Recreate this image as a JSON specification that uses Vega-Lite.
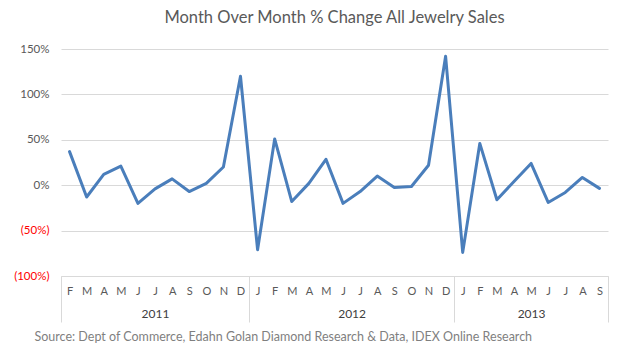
{
  "$schema": "https://vega.github.io/schema/vega-lite/v6.json",
  "autosize": {"type": "none"},
  "width": 547,
  "height": 227,
  "padding": {"left": 61, "top": 49, "right": 17, "bottom": 79},
  "background": "white",
  "title": {
    "text": "Month Over Month % Change All Jewelry Sales",
    "fontSize": 16.5,
    "font": "Lato",
    "fontWeight": "normal",
    "color": "#595959",
    "anchor": "middle",
    "offset": 17
  },
  "config": {
    "view": {"stroke": null},
    "font": "Lato"
  },
  "data": {
    "values": [
      {"i": 0, "year": "2011", "month": "F", "value": 37},
      {"i": 1, "year": "2011", "month": "M", "value": -13},
      {"i": 2, "year": "2011", "month": "A", "value": 12},
      {"i": 3, "year": "2011", "month": "M", "value": 21},
      {"i": 4, "year": "2011", "month": "J", "value": -20},
      {"i": 5, "year": "2011", "month": "J", "value": -4},
      {"i": 6, "year": "2011", "month": "A", "value": 7},
      {"i": 7, "year": "2011", "month": "S", "value": -7},
      {"i": 8, "year": "2011", "month": "O", "value": 2},
      {"i": 9, "year": "2011", "month": "N", "value": 20},
      {"i": 10, "year": "2011", "month": "D", "value": 120},
      {"i": 11, "year": "2012", "month": "J", "value": -71},
      {"i": 12, "year": "2012", "month": "F", "value": 51},
      {"i": 13, "year": "2012", "month": "M", "value": -18},
      {"i": 14, "year": "2012", "month": "A", "value": 2},
      {"i": 15, "year": "2012", "month": "M", "value": 28.5},
      {"i": 16, "year": "2012", "month": "J", "value": -20},
      {"i": 17, "year": "2012", "month": "J", "value": -7},
      {"i": 18, "year": "2012", "month": "A", "value": 10},
      {"i": 19, "year": "2012", "month": "S", "value": -2.5},
      {"i": 20, "year": "2012", "month": "O", "value": -1.5},
      {"i": 21, "year": "2012", "month": "N", "value": 22},
      {"i": 22, "year": "2012", "month": "D", "value": 142},
      {"i": 23, "year": "2013", "month": "J", "value": -74},
      {"i": 24, "year": "2013", "month": "F", "value": 46},
      {"i": 25, "year": "2013", "month": "M", "value": -16},
      {"i": 26, "year": "2013", "month": "A", "value": 4},
      {"i": 27, "year": "2013", "month": "M", "value": 24},
      {"i": 28, "year": "2013", "month": "J", "value": -19},
      {"i": 29, "year": "2013", "month": "J", "value": -8},
      {"i": 30, "year": "2013", "month": "A", "value": 8.5},
      {"i": 31, "year": "2013", "month": "S", "value": -3.5}
    ]
  },
  "layer": [
    {
      "mark": {"type": "line", "color": "#4A7EBB", "strokeWidth": 3, "strokeJoin": "round", "strokeCap": "round"},
      "encoding": {
        "x": {
          "field": "i", "type": "quantitative",
          "scale": {"domain": [-0.5, 31.5], "nice": false, "zero": false},
          "axis": {
            "orient": "bottom",
            "title": null,
            "values": [0,1,2,3,4,5,6,7,8,9,10,11,12,13,14,15,16,17,18,19,20,21,22,23,24,25,26,27,28,29,30,31],
            "labelExpr": "substring('FMAMJJASONDJFMAMJJASONDJFMAMJJAS', datum.value, datum.value + 1)",
            "ticks": false,
            "grid": false,
            "domainColor": "#D9D9D9",
            "domainWidth": 1,
            "labelPadding": 9,
            "labelColor": "#595959",
            "labelFontSize": 11,
            "labelFont": "Lato",
            "labelOverlap": false,
            "labelBound": false,
            "labelFlush": false
          }
        },
        "y": {
          "field": "value", "type": "quantitative",
          "scale": {"domain": [-100, 150], "nice": false},
          "axis": {
            "title": null,
            "values": [-100, -50, 0, 50, 100, 150],
            "labelExpr": "datum.value < 0 ? '(' + abs(datum.value) + '%)' : datum.value + '%'",
            "labelColor": {"condition": {"test": "datum.value < 0", "value": "#FF0000"}, "value": "#595959"},
            "domain": false,
            "ticks": false,
            "grid": true,
            "gridColor": "#D9D9D9",
            "gridWidth": 1,
            "labelPadding": 12,
            "labelFontSize": 11.5,
            "labelFont": "Lato"
          }
        }
      }
    },
    {
      "mark": {"type": "point", "opacity": 0},
      "encoding": {
        "x": {
          "field": "i", "type": "quantitative",
          "scale": {"domain": [-0.5, 31.5], "nice": false, "zero": false},
          "axis": {
            "orient": "bottom",
            "title": null,
            "values": [-0.5, 10.5, 22.5, 31.5],
            "labels": false,
            "domain": false,
            "grid": false,
            "ticks": true,
            "tickSize": 46,
            "tickColor": "#D9D9D9",
            "tickWidth": 1
          }
        }
      }
    },
    {
      "mark": {"type": "point", "opacity": 0},
      "encoding": {
        "x": {
          "field": "i", "type": "quantitative",
          "scale": {"domain": [-0.5, 31.5], "nice": false, "zero": false},
          "axis": {
            "orient": "bottom",
            "values": [5, 16.5, 27],
            "labelExpr": "datum.value < 10 ? '2011' : datum.value < 20 ? '2012' : '2013'",
            "labels": true,
            "domain": false,
            "grid": false,
            "ticks": false,
            "labelPadding": 32,
            "labelColor": "#404040",
            "labelFontSize": 12,
            "labelFont": "Lato",
            "labelBound": false,
            "labelFlush": false,
            "title": "Source: Dept of Commerce,  Edahn Golan Diamond Research & Data, IDEX Online Research",
            "titleFont": "Lato",
            "titleFontSize": 12.5,
            "titleFontWeight": "normal",
            "titleColor": "#7F7F7F",
            "titleAnchor": "start",
            "titleAlign": "left",
            "titleBaseline": "middle",
            "titleX": -27,
            "titleY": 60
          }
        }
      }
    }
  ],
  "resolve": {"scale": {"x": "independent"}, "axis": {"x": "independent"}}
}
